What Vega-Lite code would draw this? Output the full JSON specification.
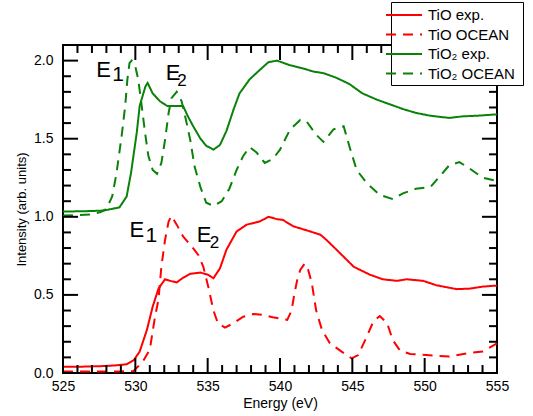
{
  "$schema": "https://vega.github.io/schema/vega-lite/v6.json",
  "width": 434,
  "height": 328,
  "autosize": {"type": "none"},
  "padding": {"left": 63, "top": 45, "right": 36, "bottom": 43},
  "background": "white",
  "config": {
    "view": {"stroke": "black", "strokeWidth": 2},
    "font": "Liberation Sans",
    "axis": {
      "domain": false,
      "grid": false,
      "ticks": false,
      "tickSize": 0,
      "labelColor": "black",
      "titleColor": "black",
      "labelFont": "Liberation Sans",
      "titleFont": "Liberation Sans",
      "labelFontSize": 14,
      "titleFontSize": 13,
      "titleFontWeight": "normal",
      "labelOverlap": false,
      "labelFlush": false
    }
  },
  "datasets": {
    "xmaj": [{"e": 525}, {"e": 530}, {"e": 535}, {"e": 540}, {"e": 545}, {"e": 550}, {"e": 555}],
    "xmin": [{"e": 526}, {"e": 527}, {"e": 528}, {"e": 529}, {"e": 531}, {"e": 532}, {"e": 533}, {"e": 534}, {"e": 536}, {"e": 537}, {"e": 538}, {"e": 539}, {"e": 541}, {"e": 542}, {"e": 543}, {"e": 544}, {"e": 546}, {"e": 547}, {"e": 548}, {"e": 549}, {"e": 551}, {"e": 552}, {"e": 553}, {"e": 554}],
    "ymaj": [{"v": 0}, {"v": 0.5}, {"v": 1.0}, {"v": 1.5}, {"v": 2.0}],
    "ymin": [{"v": 0.1}, {"v": 0.2}, {"v": 0.3}, {"v": 0.4}, {"v": 0.6}, {"v": 0.7}, {"v": 0.8}, {"v": 0.9}, {"v": 1.1}, {"v": 1.2}, {"v": 1.3}, {"v": 1.4}, {"v": 1.6}, {"v": 1.7}, {"v": 1.8}, {"v": 1.9}],
    "curves": [
      {"s": "TiO exp.", "e": 525, "v": 0.04},
      {"s": "TiO exp.", "e": 526, "v": 0.04},
      {"s": "TiO exp.", "e": 527, "v": 0.042},
      {"s": "TiO exp.", "e": 528, "v": 0.045},
      {"s": "TiO exp.", "e": 528.8, "v": 0.05},
      {"s": "TiO exp.", "e": 529.4, "v": 0.056},
      {"s": "TiO exp.", "e": 529.9, "v": 0.083},
      {"s": "TiO exp.", "e": 530.3, "v": 0.137},
      {"s": "TiO exp.", "e": 530.8, "v": 0.276},
      {"s": "TiO exp.", "e": 531.2, "v": 0.425},
      {"s": "TiO exp.", "e": 531.6, "v": 0.54},
      {"s": "TiO exp.", "e": 532.05, "v": 0.6},
      {"s": "TiO exp.", "e": 532.4, "v": 0.59},
      {"s": "TiO exp.", "e": 532.86, "v": 0.58},
      {"s": "TiO exp.", "e": 533.3, "v": 0.61},
      {"s": "TiO exp.", "e": 533.8, "v": 0.635},
      {"s": "TiO exp.", "e": 534.5, "v": 0.643},
      {"s": "TiO exp.", "e": 535.0, "v": 0.63},
      {"s": "TiO exp.", "e": 535.4, "v": 0.607},
      {"s": "TiO exp.", "e": 535.85, "v": 0.67},
      {"s": "TiO exp.", "e": 536.3, "v": 0.79},
      {"s": "TiO exp.", "e": 537.0, "v": 0.906},
      {"s": "TiO exp.", "e": 537.7, "v": 0.95},
      {"s": "TiO exp.", "e": 538.6, "v": 0.97},
      {"s": "TiO exp.", "e": 539.2, "v": 1.0},
      {"s": "TiO exp.", "e": 539.8, "v": 0.985},
      {"s": "TiO exp.", "e": 540.2, "v": 0.98},
      {"s": "TiO exp.", "e": 540.9, "v": 0.94},
      {"s": "TiO exp.", "e": 542.1, "v": 0.906},
      {"s": "TiO exp.", "e": 542.8, "v": 0.885},
      {"s": "TiO exp.", "e": 543.2, "v": 0.853},
      {"s": "TiO exp.", "e": 543.9, "v": 0.79},
      {"s": "TiO exp.", "e": 545.1, "v": 0.68},
      {"s": "TiO exp.", "e": 546.2, "v": 0.63},
      {"s": "TiO exp.", "e": 547.1, "v": 0.6},
      {"s": "TiO exp.", "e": 548.1, "v": 0.59},
      {"s": "TiO exp.", "e": 548.75, "v": 0.6},
      {"s": "TiO exp.", "e": 549.9, "v": 0.59},
      {"s": "TiO exp.", "e": 550.8, "v": 0.562},
      {"s": "TiO exp.", "e": 552.2, "v": 0.537},
      {"s": "TiO exp.", "e": 553.1, "v": 0.54},
      {"s": "TiO exp.", "e": 554.0, "v": 0.553},
      {"s": "TiO exp.", "e": 555, "v": 0.56},

      {"s": "TiO OCEAN", "e": 525, "v": 0.01},
      {"s": "TiO OCEAN", "e": 527, "v": 0.01},
      {"s": "TiO OCEAN", "e": 529, "v": 0.01},
      {"s": "TiO OCEAN", "e": 529.86, "v": 0.012},
      {"s": "TiO OCEAN", "e": 530.5, "v": 0.07},
      {"s": "TiO OCEAN", "e": 531.0, "v": 0.15},
      {"s": "TiO OCEAN", "e": 531.36, "v": 0.36},
      {"s": "TiO OCEAN", "e": 531.6, "v": 0.47},
      {"s": "TiO OCEAN", "e": 531.8, "v": 0.68},
      {"s": "TiO OCEAN", "e": 532.05, "v": 0.85},
      {"s": "TiO OCEAN", "e": 532.3, "v": 0.97},
      {"s": "TiO OCEAN", "e": 532.5, "v": 1.006},
      {"s": "TiO OCEAN", "e": 532.86, "v": 0.95},
      {"s": "TiO OCEAN", "e": 533.3, "v": 0.874},
      {"s": "TiO OCEAN", "e": 533.9, "v": 0.81},
      {"s": "TiO OCEAN", "e": 534.35, "v": 0.756},
      {"s": "TiO OCEAN", "e": 534.7, "v": 0.68},
      {"s": "TiO OCEAN", "e": 535.04, "v": 0.553},
      {"s": "TiO OCEAN", "e": 535.4, "v": 0.4},
      {"s": "TiO OCEAN", "e": 535.7, "v": 0.32},
      {"s": "TiO OCEAN", "e": 536.2, "v": 0.29},
      {"s": "TiO OCEAN", "e": 536.8, "v": 0.32},
      {"s": "TiO OCEAN", "e": 537.46, "v": 0.36},
      {"s": "TiO OCEAN", "e": 538.15, "v": 0.378},
      {"s": "TiO OCEAN", "e": 538.8, "v": 0.372},
      {"s": "TiO OCEAN", "e": 539.5, "v": 0.357},
      {"s": "TiO OCEAN", "e": 540.5, "v": 0.34},
      {"s": "TiO OCEAN", "e": 540.8, "v": 0.4},
      {"s": "TiO OCEAN", "e": 541.0, "v": 0.51},
      {"s": "TiO OCEAN", "e": 541.2, "v": 0.6},
      {"s": "TiO OCEAN", "e": 541.4, "v": 0.66},
      {"s": "TiO OCEAN", "e": 541.7, "v": 0.7},
      {"s": "TiO OCEAN", "e": 541.95, "v": 0.66},
      {"s": "TiO OCEAN", "e": 542.2, "v": 0.575},
      {"s": "TiO OCEAN", "e": 542.5, "v": 0.4},
      {"s": "TiO OCEAN", "e": 542.9, "v": 0.276},
      {"s": "TiO OCEAN", "e": 543.45, "v": 0.19},
      {"s": "TiO OCEAN", "e": 544.26, "v": 0.137},
      {"s": "TiO OCEAN", "e": 544.95, "v": 0.094},
      {"s": "TiO OCEAN", "e": 545.4, "v": 0.115},
      {"s": "TiO OCEAN", "e": 546.0, "v": 0.233},
      {"s": "TiO OCEAN", "e": 546.45, "v": 0.33},
      {"s": "TiO OCEAN", "e": 546.9, "v": 0.365},
      {"s": "TiO OCEAN", "e": 547.4, "v": 0.32},
      {"s": "TiO OCEAN", "e": 547.8, "v": 0.21},
      {"s": "TiO OCEAN", "e": 548.3, "v": 0.143},
      {"s": "TiO OCEAN", "e": 549.0, "v": 0.122},
      {"s": "TiO OCEAN", "e": 550.1, "v": 0.115},
      {"s": "TiO OCEAN", "e": 551.7, "v": 0.105},
      {"s": "TiO OCEAN", "e": 552.9, "v": 0.126},
      {"s": "TiO OCEAN", "e": 554.0, "v": 0.137},
      {"s": "TiO OCEAN", "e": 555, "v": 0.19},

      {"s": "TiO₂  exp.", "e": 525, "v": 1.034},
      {"s": "TiO₂  exp.", "e": 526, "v": 1.035},
      {"s": "TiO₂  exp.", "e": 527, "v": 1.037},
      {"s": "TiO₂  exp.", "e": 527.8, "v": 1.04},
      {"s": "TiO₂  exp.", "e": 528.9, "v": 1.06},
      {"s": "TiO₂  exp.", "e": 529.4, "v": 1.13},
      {"s": "TiO₂  exp.", "e": 529.7, "v": 1.28},
      {"s": "TiO₂  exp.", "e": 530.1, "v": 1.54},
      {"s": "TiO₂  exp.", "e": 530.3, "v": 1.71},
      {"s": "TiO₂  exp.", "e": 530.7, "v": 1.835},
      {"s": "TiO₂  exp.", "e": 530.85, "v": 1.857},
      {"s": "TiO₂  exp.", "e": 531.2, "v": 1.79},
      {"s": "TiO₂  exp.", "e": 531.7, "v": 1.74},
      {"s": "TiO₂  exp.", "e": 532.2, "v": 1.71},
      {"s": "TiO₂  exp.", "e": 532.8, "v": 1.71},
      {"s": "TiO₂  exp.", "e": 533.3, "v": 1.71},
      {"s": "TiO₂  exp.", "e": 533.65, "v": 1.64},
      {"s": "TiO₂  exp.", "e": 534.0, "v": 1.58},
      {"s": "TiO₂  exp.", "e": 534.5, "v": 1.5},
      {"s": "TiO₂  exp.", "e": 534.9, "v": 1.455},
      {"s": "TiO₂  exp.", "e": 535.4, "v": 1.43},
      {"s": "TiO₂  exp.", "e": 535.85, "v": 1.46},
      {"s": "TiO₂  exp.", "e": 536.3, "v": 1.55},
      {"s": "TiO₂  exp.", "e": 536.8, "v": 1.69},
      {"s": "TiO₂  exp.", "e": 537.2, "v": 1.79},
      {"s": "TiO₂  exp.", "e": 537.9, "v": 1.88},
      {"s": "TiO₂  exp.", "e": 538.6, "v": 1.94},
      {"s": "TiO₂  exp.", "e": 539.2, "v": 1.99},
      {"s": "TiO₂  exp.", "e": 539.8, "v": 2.0},
      {"s": "TiO₂  exp.", "e": 540.7, "v": 1.97},
      {"s": "TiO₂  exp.", "e": 541.6, "v": 1.95},
      {"s": "TiO₂  exp.", "e": 542.3, "v": 1.93},
      {"s": "TiO₂  exp.", "e": 543.0, "v": 1.92},
      {"s": "TiO₂  exp.", "e": 543.9, "v": 1.89},
      {"s": "TiO₂  exp.", "e": 544.8, "v": 1.85},
      {"s": "TiO₂  exp.", "e": 545.7, "v": 1.79},
      {"s": "TiO₂  exp.", "e": 546.7, "v": 1.75},
      {"s": "TiO₂  exp.", "e": 547.6, "v": 1.72},
      {"s": "TiO₂  exp.", "e": 548.5, "v": 1.69},
      {"s": "TiO₂  exp.", "e": 549.4, "v": 1.665},
      {"s": "TiO₂  exp.", "e": 550.4, "v": 1.647},
      {"s": "TiO₂  exp.", "e": 551.7, "v": 1.633},
      {"s": "TiO₂  exp.", "e": 552.6, "v": 1.643},
      {"s": "TiO₂  exp.", "e": 553.6, "v": 1.647},
      {"s": "TiO₂  exp.", "e": 555, "v": 1.656},

      {"s": "TiO₂  OCEAN", "e": 525, "v": 1.008},
      {"s": "TiO₂  OCEAN", "e": 526, "v": 1.01},
      {"s": "TiO₂  OCEAN", "e": 527, "v": 1.015},
      {"s": "TiO₂  OCEAN", "e": 527.6, "v": 1.03},
      {"s": "TiO₂  OCEAN", "e": 528.0, "v": 1.05},
      {"s": "TiO₂  OCEAN", "e": 528.4, "v": 1.13},
      {"s": "TiO₂  OCEAN", "e": 528.7, "v": 1.28},
      {"s": "TiO₂  OCEAN", "e": 529.05, "v": 1.515},
      {"s": "TiO₂  OCEAN", "e": 529.3, "v": 1.71},
      {"s": "TiO₂  OCEAN", "e": 529.45, "v": 1.88},
      {"s": "TiO₂  OCEAN", "e": 529.6, "v": 1.985},
      {"s": "TiO₂  OCEAN", "e": 529.75, "v": 2.0},
      {"s": "TiO₂  OCEAN", "e": 529.98, "v": 1.97},
      {"s": "TiO₂  OCEAN", "e": 530.2, "v": 1.88},
      {"s": "TiO₂  OCEAN", "e": 530.44, "v": 1.71},
      {"s": "TiO₂  OCEAN", "e": 530.67, "v": 1.54},
      {"s": "TiO₂  OCEAN", "e": 530.9, "v": 1.39},
      {"s": "TiO₂  OCEAN", "e": 531.2, "v": 1.3},
      {"s": "TiO₂  OCEAN", "e": 531.5, "v": 1.275},
      {"s": "TiO₂  OCEAN", "e": 531.8, "v": 1.345},
      {"s": "TiO₂  OCEAN", "e": 532.05, "v": 1.49},
      {"s": "TiO₂  OCEAN", "e": 532.3, "v": 1.665},
      {"s": "TiO₂  OCEAN", "e": 532.5, "v": 1.76},
      {"s": "TiO₂  OCEAN", "e": 532.86, "v": 1.8},
      {"s": "TiO₂  OCEAN", "e": 533.2, "v": 1.74},
      {"s": "TiO₂  OCEAN", "e": 533.5, "v": 1.62},
      {"s": "TiO₂  OCEAN", "e": 533.8, "v": 1.49},
      {"s": "TiO₂  OCEAN", "e": 534.1, "v": 1.32},
      {"s": "TiO₂  OCEAN", "e": 534.5, "v": 1.19},
      {"s": "TiO₂  OCEAN", "e": 534.9, "v": 1.09},
      {"s": "TiO₂  OCEAN", "e": 535.4, "v": 1.07},
      {"s": "TiO₂  OCEAN", "e": 535.97, "v": 1.1},
      {"s": "TiO₂  OCEAN", "e": 536.5, "v": 1.18},
      {"s": "TiO₂  OCEAN", "e": 537.0, "v": 1.3},
      {"s": "TiO₂  OCEAN", "e": 537.46, "v": 1.39},
      {"s": "TiO₂  OCEAN", "e": 537.9, "v": 1.447},
      {"s": "TiO₂  OCEAN", "e": 538.4, "v": 1.41},
      {"s": "TiO₂  OCEAN", "e": 538.95, "v": 1.345},
      {"s": "TiO₂  OCEAN", "e": 539.5, "v": 1.37},
      {"s": "TiO₂  OCEAN", "e": 540.0, "v": 1.43},
      {"s": "TiO₂  OCEAN", "e": 540.7, "v": 1.56},
      {"s": "TiO₂  OCEAN", "e": 541.4, "v": 1.62},
      {"s": "TiO₂  OCEAN", "e": 541.84, "v": 1.61},
      {"s": "TiO₂  OCEAN", "e": 542.5, "v": 1.526},
      {"s": "TiO₂  OCEAN", "e": 543.0, "v": 1.48},
      {"s": "TiO₂  OCEAN", "e": 543.7, "v": 1.56},
      {"s": "TiO₂  OCEAN", "e": 544.4, "v": 1.58},
      {"s": "TiO₂  OCEAN", "e": 544.8, "v": 1.45},
      {"s": "TiO₂  OCEAN", "e": 545.3, "v": 1.3},
      {"s": "TiO₂  OCEAN", "e": 545.99, "v": 1.216},
      {"s": "TiO₂  OCEAN", "e": 546.9, "v": 1.14},
      {"s": "TiO₂  OCEAN", "e": 547.8, "v": 1.113},
      {"s": "TiO₂  OCEAN", "e": 548.5, "v": 1.15},
      {"s": "TiO₂  OCEAN", "e": 549.4, "v": 1.18},
      {"s": "TiO₂  OCEAN", "e": 550.4, "v": 1.19},
      {"s": "TiO₂  OCEAN", "e": 551.05, "v": 1.26},
      {"s": "TiO₂  OCEAN", "e": 551.7, "v": 1.33},
      {"s": "TiO₂  OCEAN", "e": 552.4, "v": 1.35},
      {"s": "TiO₂  OCEAN", "e": 553.1, "v": 1.31},
      {"s": "TiO₂  OCEAN", "e": 554.0, "v": 1.25},
      {"s": "TiO₂  OCEAN", "e": 555, "v": 1.23}
    ],
    "labels": [
      {"t": "E", "role": "main", "e": 527.3, "v": 1.897},
      {"t": "1", "role": "sub1", "e": 528.4, "v": 1.872},
      {"t": "E", "role": "main", "e": 532.1, "v": 1.878},
      {"t": "2", "role": "sub2", "e": 532.9, "v": 1.835},
      {"t": "E", "role": "main", "e": 529.6, "v": 0.872},
      {"t": "1", "role": "sub1", "e": 530.7, "v": 0.84},
      {"t": "E", "role": "main", "e": 534.25, "v": 0.84},
      {"t": "2", "role": "sub2", "e": 535.15, "v": 0.8}
    ]
  },
  "layer": [
    {
      "data": {"name": "curves"},
      "mark": {"type": "line", "strokeWidth": 2},
      "encoding": {
        "x": {
          "field": "e", "type": "quantitative",
          "scale": {"domain": [525, 555], "nice": false, "zero": false},
          "axis": {
            "orient": "bottom",
            "values": [525, 530, 535, 540, 545, 550, 555],
            "format": "d",
            "labelAlign": "center",
            "labelBaseline": "top",
            "labelPadding": 6,
            "title": "Energy (eV)",
            "titleFontSize": 14,
            "titlePadding": 3
          }
        },
        "y": {
          "field": "v", "type": "quantitative",
          "scale": {"domain": [0, 2.1], "nice": false, "zero": false},
          "axis": {
            "orient": "left",
            "values": [0, 0.5, 1.0, 1.5, 2.0],
            "format": ".1f",
            "labelAlign": "right",
            "labelBaseline": "middle",
            "labelPadding": 10,
            "title": "Intensity (arb. units)",
            "titlePadding": 5
          }
        },
        "color": {
          "field": "s", "type": "nominal",
          "scale": {"domain": ["TiO exp.", "TiO OCEAN", "TiO₂  exp.", "TiO₂  OCEAN"], "range": ["#ff0000", "#ff0000", "#0a820a", "#0a820a"]},
          "legend": {
            "title": null,
            "orient": "none",
            "legendX": 328,
            "legendY": -43,
            "fillColor": "white",
            "strokeColor": "black",
            "padding": 3,
            "labelFont": "Liberation Sans",
            "labelFontSize": 15,
            "labelColor": "black",
            "symbolType": "M-2,0H2",
            "symbolSize": 324,
            "symbolStrokeWidth": 2,
            "rowPadding": 1.5,
            "labelOffset": 14
          }
        },
        "strokeDash": {
          "field": "s", "type": "nominal",
          "scale": {"domain": ["TiO exp.", "TiO OCEAN", "TiO₂  exp.", "TiO₂  OCEAN"], "range": [[1, 0], [10, 7], [1, 0], [10, 7]]},
          "legend": {
            "title": null,
            "orient": "none",
            "legendX": 328,
            "legendY": -43,
            "fillColor": "white",
            "strokeColor": "black",
            "padding": 3,
            "labelFont": "Liberation Sans",
            "labelFontSize": 15,
            "labelColor": "black",
            "symbolType": "M-2,0H2",
            "symbolSize": 324,
            "symbolStrokeWidth": 2,
            "rowPadding": 1.5,
            "labelOffset": 14
          }
        }
      }
    },
    {
      "data": {"name": "xmaj"},
      "mark": {"type": "rule", "color": "black", "strokeWidth": 2},
      "encoding": {
        "x": {"field": "e", "type": "quantitative", "axis": null},
        "y": {"datum": 0, "type": "quantitative", "axis": null},
        "y2": {"datum": 0.096}
      }
    },
    {
      "data": {"name": "xmaj"},
      "mark": {"type": "rule", "color": "black", "strokeWidth": 2},
      "encoding": {
        "x": {"field": "e", "type": "quantitative", "axis": null},
        "y": {"datum": 2.1, "type": "quantitative", "axis": null},
        "y2": {"datum": 2.004}
      }
    },
    {
      "data": {"name": "xmin"},
      "mark": {"type": "rule", "color": "black", "strokeWidth": 2},
      "encoding": {
        "x": {"field": "e", "type": "quantitative", "axis": null},
        "y": {"datum": 0, "type": "quantitative", "axis": null},
        "y2": {"datum": 0.051}
      }
    },
    {
      "data": {"name": "xmin"},
      "mark": {"type": "rule", "color": "black", "strokeWidth": 2},
      "encoding": {
        "x": {"field": "e", "type": "quantitative", "axis": null},
        "y": {"datum": 2.1, "type": "quantitative", "axis": null},
        "y2": {"datum": 2.049}
      }
    },
    {
      "data": {"name": "ymaj"},
      "mark": {"type": "rule", "color": "black", "strokeWidth": 2},
      "encoding": {
        "y": {"field": "v", "type": "quantitative", "axis": null},
        "x": {"datum": 525, "type": "quantitative", "axis": null},
        "x2": {"datum": 526.04}
      }
    },
    {
      "data": {"name": "ymaj"},
      "mark": {"type": "rule", "color": "black", "strokeWidth": 2},
      "encoding": {
        "y": {"field": "v", "type": "quantitative", "axis": null},
        "x": {"datum": 555, "type": "quantitative", "axis": null},
        "x2": {"datum": 553.96}
      }
    },
    {
      "data": {"name": "ymin"},
      "mark": {"type": "rule", "color": "black", "strokeWidth": 2},
      "encoding": {
        "y": {"field": "v", "type": "quantitative", "axis": null},
        "x": {"datum": 525, "type": "quantitative", "axis": null},
        "x2": {"datum": 525.55}
      }
    },
    {
      "data": {"name": "ymin"},
      "mark": {"type": "rule", "color": "black", "strokeWidth": 2},
      "encoding": {
        "y": {"field": "v", "type": "quantitative", "axis": null},
        "x": {"datum": 555, "type": "quantitative", "axis": null},
        "x2": {"datum": 554.45}
      }
    },
    {
      "data": {"name": "labels"},
      "transform": [{"filter": "datum.role === 'main'"}],
      "mark": {"type": "text", "align": "left", "baseline": "alphabetic", "fontSize": 22, "font": "Liberation Sans", "color": "black"},
      "encoding": {
        "x": {"field": "e", "type": "quantitative", "axis": null},
        "y": {"field": "v", "type": "quantitative", "axis": null},
        "text": {"field": "t"}
      }
    },
    {
      "data": {"name": "labels"},
      "transform": [{"filter": "datum.role === 'sub1'"}],
      "mark": {"type": "text", "align": "left", "baseline": "alphabetic", "fontSize": 21, "font": "Liberation Sans", "color": "black"},
      "encoding": {
        "x": {"field": "e", "type": "quantitative", "axis": null},
        "y": {"field": "v", "type": "quantitative", "axis": null},
        "text": {"field": "t"}
      }
    },
    {
      "data": {"name": "labels"},
      "transform": [{"filter": "datum.role === 'sub2'"}],
      "mark": {"type": "text", "align": "left", "baseline": "alphabetic", "fontSize": 17, "font": "Liberation Sans", "color": "black"},
      "encoding": {
        "x": {"field": "e", "type": "quantitative", "axis": null},
        "y": {"field": "v", "type": "quantitative", "axis": null},
        "text": {"field": "t"}
      }
    }
  ],
  "resolve": {"axis": {"x": "independent", "y": "independent"}}
}
